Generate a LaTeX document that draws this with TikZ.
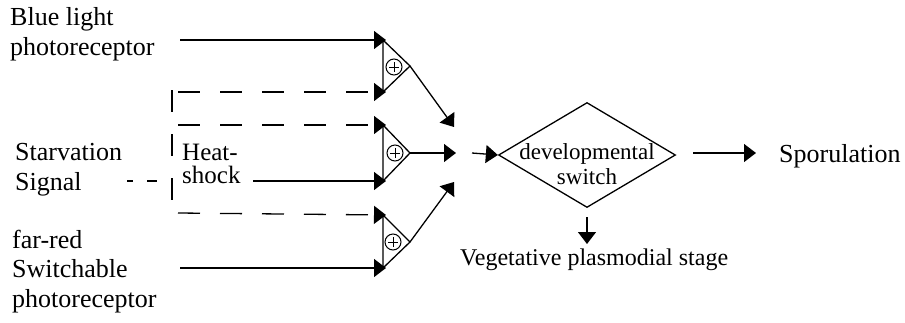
\documentclass[tikz,border=0pt]{standalone}
\usepackage{fontspec}
\setmainfont{Liberation Serif}
\usetikzlibrary{arrows.meta,shapes.geometric}
\tikzset{
  label/.style={inner sep=0pt, anchor=base west, align=left, font=\fontsize{26}{29.5}\selectfont},
  sig/.style={line width=1.3pt, -{Triangle[length=12pt,width=18pt]}},
  dsig/.style={sig, dash pattern=on 22pt off 20pt},
  bus/.style={line width=1.3pt, dash pattern=on 22pt off 22pt},
  gate/.style={line width=1.3pt, line join=miter},
  plus/.style={circle, draw, line width=1pt, minimum size=16pt, inner sep=0pt,
    path picture={\draw[line width=1pt] ([xshift=-5pt]path picture bounding box.center) -- ([xshift=5pt]path picture bounding box.center)
      ([yshift=-5pt]path picture bounding box.center) -- ([yshift=5pt]path picture bounding box.center);}},
  switchbox/.style={draw, line width=1.3pt, shape=diamond, aspect=1.7, inner sep=0pt,
    minimum width=177pt, minimum height=105pt},
  switchtext/.style={inner sep=0pt, align=center, font=\fontsize{23}{25}\selectfont},
}
\begin{document}
\begin{tikzpicture}[x=1pt,y=-1pt]
\useasboundingbox (0,0) rectangle (905,322);

% input labels (anchored at the baseline of their last line)
\node[label] (blue) at (10,55) {Blue light\\photoreceptor};
\node[label] (starv) at (15,190) {Starvation\\Signal};
\node[label] (far) at (12,307) {far-red\\Switchable\\photoreceptor};
\node[label, font=\fontsize{25}{23}\selectfont] (heat) at (182,183) {Heat-\\shock};

% gate corners
\coordinate (g1t) at (383,40);  \coordinate (g1b) at (383,92);  \coordinate (g1o) at (410,66);
\coordinate (g2t) at (383,125); \coordinate (g2b) at (383,181); \coordinate (g2o) at (410,153);
\coordinate (g3t) at (383,215); \coordinate (g3b) at (383,268); \coordinate (g3o) at (410,242);

% summing gates
\draw[gate] (g1t) -- (g1o) -- (g1b) -- cycle;
\draw[gate] (g2t) -- (g2o) -- (g2b) -- cycle;
\draw[gate] (g3t) -- (g3o) -- (g3b) -- cycle;
\node[plus] (p1) at (394,67) {};
\node[plus] (p2) at (395,153) {};
\node[plus] (p3) at (393,242) {};

% inputs to gates
\coordinate (b1) at (180,40);
\draw[sig] (b1) -- ([xshift=3pt]g1t);
\coordinate (s1) at (178,92);
\draw[dsig] (s1) -- ([xshift=3pt]g1b);
\coordinate (s2) at (178,125);
\draw[dsig] (s2) -- ([xshift=3pt]g2t);
\coordinate (h1) at (253,181);
\draw[sig] (h1) -- ([xshift=3pt]g2b);
\coordinate (s3) at (178,213);
\draw[dsig] (s3) -- ([xshift=3pt]g3t);
\coordinate (f1) at (180,268);
\draw[sig] (f1) -- ([xshift=3pt]g3b);

% starvation bus
\coordinate (busT) at (172,90);
\coordinate (busB) at (172,200);
\draw[bus] (busT) -- (busB);
\coordinate (st0) at (127,181);
\coordinate (st1) at (160,181);
\draw[line width=1.3pt, dash pattern=on 6pt off 14pt on 10pt off 100pt] (st0) -- (st1);

% gate outputs
\coordinate (m1) at (454,127);
\coordinate (m2) at (456,153);
\coordinate (m3) at (454,182);
\draw[sig] (g1o) -- (m1);
\draw[sig] (g2o) -- (m2);
\draw[sig] (g3o) -- (m3);

% developmental switch
\node[switchbox] (sw) at (587,155) {};
\node[switchtext] (swt) at (587,164) {developmental\\switch};
\coordinate (in) at (472,153);
\draw[sig] (in) -- (sw.west);

\node[label] (spor) at (779,162) {Sporulation};
\coordinate (so) at (693,153);
\draw[sig] (so) -- ([xshift=-23pt]spor.west |- so);

\node[label, font=\fontsize{24}{29}\selectfont] (veg) at (460,265) {Vegetative plasmodial stage};
\coordinate (vo) at (587,217);
\coordinate (vi) at (587,244);
\draw[sig] (vo) -- (vi);
\end{tikzpicture}
\end{document}
